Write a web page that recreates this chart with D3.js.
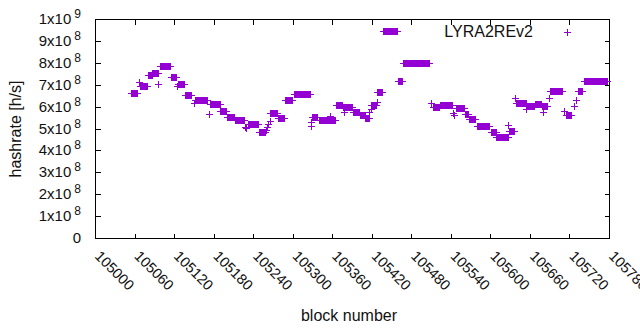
<!DOCTYPE html>
<html>
<head>
<meta charset="utf-8">
<script src="https://cdn.jsdelivr.net/npm/d3@7"></script>
<style>
  body { margin: 0; background: #fff; }
  svg { display: block; font-family: "Liberation Sans", Arial, sans-serif; }
</style>
</head>
<body>
<svg id="chart" width="640" height="330"></svg>
<script>
// hashrate per block, stored as runs of equal value (start block, end block, h/s)
var seriesName = "LYRA2REv2";
var runStart = [105056, 105067, 105069, 105081, 105088, 105097, 105100, 105116, 105125, 105126,
  105137, 105151, 105153, 105173, 105175, 105191, 105201, 105213, 105228, 105230,
  105233, 105249, 105260, 105262, 105264, 105266, 105267, 105278, 105289, 105302,
  105328, 105329, 105330, 105340, 105357, 105366, 105377, 105379, 105392, 105403,
  105411, 105417, 105419, 105420, 105428, 105429, 105438, 105460, 105468, 105510,
  105513, 105524, 105544, 105546, 105549, 105562, 105568, 105580, 105601, 105610,
  105628, 105629, 105638, 105640, 105655, 105656, 105668, 105679, 105681, 105689,
  105691, 105713, 105716, 105727, 105730, 105733, 105743];
var runEnd = [105064, 105067, 105080, 105087, 105096, 105097, 105115, 105124, 105125, 105136,
  105147, 105151, 105171, 105173, 105190, 105200, 105212, 105227, 105228, 105230,
  105248, 105258, 105260, 105262, 105264, 105266, 105277, 105288, 105300, 105327,
  105328, 105329, 105338, 105365, 105357, 105376, 105391, 105379, 105402, 105410,
  105416, 105417, 105419, 105427, 105428, 105437, 105459, 105467, 105507, 105510,
  105523, 105543, 105544, 105546, 105561, 105567, 105578, 105598, 105609, 105627,
  105628, 105637, 105638, 105655, 105655, 105667, 105678, 105687, 105681, 105689,
  105710, 105713, 105723, 105727, 105730, 105740, 105778];
var runRate = [662e6, 712e6, 693e6, 743e6, 752e6, 702e6, 784e6, 734e6, 694e6, 702e6,
  652e6, 615e6, 628e6, 566e6, 610e6, 578e6, 549e6, 536e6, 505e6, 498e6,
  519e6, 483e6, 490e6, 505e6, 520e6, 530e6, 569e6, 547e6, 629e6, 653e6,
  527e6, 511e6, 549e6, 536e6, 555e6, 604e6, 597e6, 575e6, 572e6, 560e6,
  547e6, 575e6, 585e6, 603e6, 620e6, 665e6, 944e6, 715e6, 798e6, 612e6,
  595e6, 607e6, 570e6, 560e6, 592e6, 562e6, 539e6, 511e6, 484e6, 460e6,
  515e6, 488e6, 638e6, 616e6, 585e6, 600e6, 609e6, 600e6, 575e6, 638e6,
  668e6, 577e6, 560e6, 600e6, 630e6, 668e6, 716e6];
var xTicks = [105000, 105060, 105120, 105180, 105240, 105300, 105360, 105420,
  105480, 105540, 105600, 105660, 105720, 105780];
var yTicks = [0, 1e8, 2e8, 3e8, 4e8, 5e8, 6e8, 7e8, 8e8, 9e8, 1e9];

var svg = d3.select("#chart");
var color = "#9400d3";
var pLeft = 95, pRight = 609, pTop = 19, pBottom = 238;

var xScale = d3.scaleLinear().domain([105000, 105780]).range([pLeft, pRight]);
var yScale = d3.scaleLinear().domain([0, 1e9]).range([pBottom, pTop]);

// build points
var points = [];
for (var i = 0; i < runStart.length; i++) {
  for (var b = runStart[i]; b <= runEnd[i]; b++) {
    points.push({ block: b, rate: runRate[i] });
  }
}

// ticks on all four sides, pointing inward
var tickLen = 5;
var g = svg.append("g").attr("shape-rendering", "crispEdges").attr("stroke", "#000");
xTicks.forEach(function (t) {
  var x = Math.round(xScale(t)) + 0.5;
  g.append("line").attr("x1", x).attr("x2", x).attr("y1", pBottom + 0.5).attr("y2", pBottom + 0.5 - tickLen);
  g.append("line").attr("x1", x).attr("x2", x).attr("y1", pTop + 0.5).attr("y2", pTop + 0.5 + tickLen);
});
yTicks.forEach(function (t) {
  var y = Math.round(yScale(t)) + 0.5;
  g.append("line").attr("x1", pLeft + 0.5).attr("x2", pLeft + 0.5 + tickLen).attr("y1", y).attr("y2", y);
  g.append("line").attr("x1", pRight + 0.5).attr("x2", pRight + 0.5 - tickLen).attr("y1", y).attr("y2", y);
});
g.append("rect")
  .attr("x", pLeft + 0.5).attr("y", pTop + 0.5)
  .attr("width", pRight - pLeft).attr("height", pBottom - pTop)
  .attr("fill", "none");

// x tick labels, rotated
svg.append("g")
  .selectAll("text")
  .data(xTicks)
  .enter()
  .append("text")
  .attr("transform", function (d) {
    return "translate(" + (xScale(d) - 1) + "," + (pBottom + 19) + ")rotate(45)";
  })
  .style("font-size", "14.5px")
  .attr("fill", "#111")
  .text(function (d) { return d; });

// y tick labels like 5x10^8
var ylab = svg.append("g")
  .selectAll("text")
  .data(yTicks)
  .enter()
  .append("text")
  .attr("x", 81)
  .attr("y", function (d) { return yScale(d) + 5; })
  .attr("text-anchor", "end")
  .style("font-size", "15px")
  .attr("fill", "#111");
ylab.each(function (d) {
  var t = d3.select(this);
  if (d === 0) { t.text("0"); return; }
  var e = Math.floor(Math.log10(d) + 1e-9);
  var m = Math.round(d / Math.pow(10, e));
  t.append("tspan").text(m + "x10");
  t.append("tspan").attr("dx", 3).attr("dy", -6).style("font-size", "12px").text(e);
});

// axis titles
svg.append("text")
  .attr("transform", "translate(21,129)rotate(-90)")
  .attr("text-anchor", "middle")
  .style("font-size", "16px")
  .attr("fill", "#111")
  .text("hashrate [h/s]");
svg.append("text")
  .attr("x", 349)
  .attr("y", 321)
  .attr("text-anchor", "middle")
  .style("font-size", "16px")
  .attr("fill", "#111")
  .text("block number");

// plus markers
var plus = "M-3.5,0H3.5M0,-3.5V3.5";
svg.append("g")
  .attr("shape-rendering", "crispEdges")
  .selectAll(".dot")
  .data(points)
  .enter()
  .append("path")
  .attr("class", "dot")
  .attr("d", plus)
  .attr("transform", function (d) {
    return "translate(" + xScale(d.block) + "," + yScale(d.rate) + ")";
  })
  .attr("fill", "none")
  .attr("stroke", color)
  .attr("stroke-width", 1);

// legend
svg.append("text")
  .attr("x", 533)
  .attr("y", 37)
  .attr("text-anchor", "end")
  .style("font-size", "16px")
  .attr("fill", "#111")
  .text(seriesName);
svg.append("path")
  .attr("d", plus)
  .attr("transform", "translate(567,32)")
  .attr("shape-rendering", "crispEdges")
  .attr("fill", "none")
  .attr("stroke", color);
</script>
</body>
</html>
